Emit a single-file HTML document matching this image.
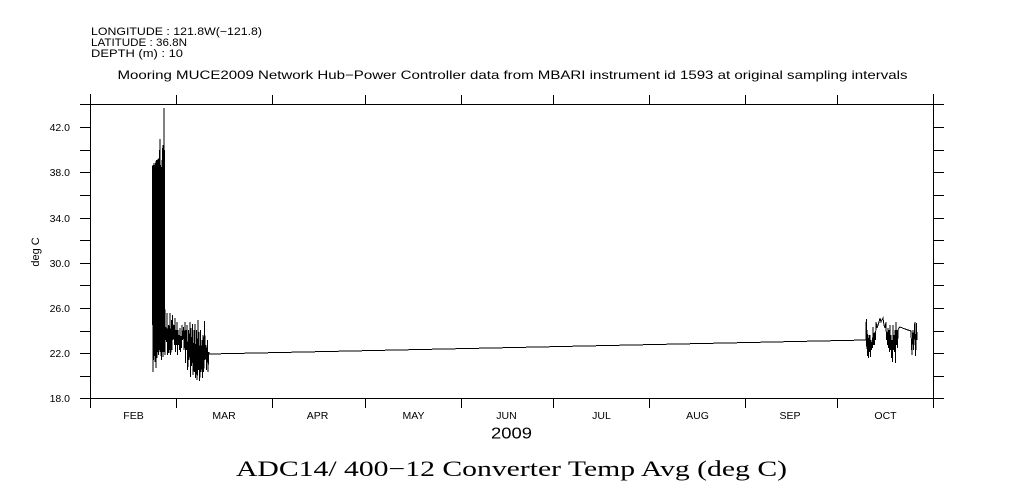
<!DOCTYPE html>
<html>
<head>
<meta charset="utf-8">
<style>
html,body{margin:0;padding:0;background:#fff;}
svg{display:block;}
text{font-family:"Liberation Sans",sans-serif;fill:#000;}
.serif{font-family:"Liberation Serif",serif;}
</style>
</head>
<body>
<svg width="1009" height="504" viewBox="0 0 1009 504" xmlns="http://www.w3.org/2000/svg">
<rect x="0" y="0" width="1009" height="504" fill="#fff"/>

<!-- header -->
<text x="91" y="35" font-size="11" textLength="171" lengthAdjust="spacingAndGlyphs">LONGITUDE : 121.8W(−121.8)</text>
<text x="91" y="46" font-size="11" textLength="96" lengthAdjust="spacingAndGlyphs">LATITUDE : 36.8N</text>
<text x="91" y="57" font-size="11" textLength="92" lengthAdjust="spacingAndGlyphs">DEPTH (m) : 10</text>
<text x="117.5" y="79" font-size="12" textLength="790" lengthAdjust="spacingAndGlyphs">Mooring MUCE2009 Network Hub−Power Controller data from MBARI instrument id 1593 at original sampling intervals</text>

<!-- axes -->
<g stroke="#000" stroke-width="1" fill="none" shape-rendering="crispEdges">
  <line x1="80" y1="104.5" x2="944" y2="104.5"/>
  <line x1="80" y1="398.5" x2="944" y2="398.5"/>
  <line x1="90.5" y1="94" x2="90.5" y2="408"/>
  <line x1="933.5" y1="94" x2="933.5" y2="408"/>
  <path d="M176.5 95V104 M272.5 95V104 M365.5 95V104 M461.5 95V104 M553.5 95V104 M649.5 95V104 M745.5 95V104 M837.5 95V104"/>
  <path d="M176.5 399V408 M272.5 399V408 M365.5 399V408 M461.5 399V408 M553.5 399V408 M649.5 399V408 M745.5 399V408 M837.5 399V408"/>
  <path d="M80 376.5H90 M80 353.5H90 M80 331.5H90 M80 308.5H90 M80 285.5H90 M80 263.5H90 M80 240.5H90 M80 218.5H90 M80 195.5H90 M80 172.5H90 M80 150.5H90 M80 127.5H90"/>
  <path d="M934 376.5H944 M934 353.5H944 M934 331.5H944 M934 308.5H944 M934 285.5H944 M934 263.5H944 M934 240.5H944 M934 218.5H944 M934 195.5H944 M934 172.5H944 M934 150.5H944 M934 127.5H944"/>
</g>

<!-- y labels -->
<g font-size="10.5" text-anchor="end">
  <text x="70" y="402">18.0</text>
  <text x="70" y="357">22.0</text>
  <text x="70" y="312">26.0</text>
  <text x="70" y="267">30.0</text>
  <text x="70" y="222">34.0</text>
  <text x="70" y="176">38.0</text>
  <text x="70" y="131">42.0</text>
</g>
<text x="0" y="0" font-size="11" text-anchor="middle" transform="translate(39,252) rotate(-90)">deg C</text>

<!-- month labels -->
<g font-size="10.5" text-anchor="middle">
  <text x="133.5" y="419">FEB</text>
  <text x="224" y="419">MAR</text>
  <text x="317.5" y="419">APR</text>
  <text x="413.5" y="419">MAY</text>
  <text x="506.5" y="419">JUN</text>
  <text x="601.5" y="419">JUL</text>
  <text x="697.5" y="419">AUG</text>
  <text x="790" y="419">SEP</text>
  <text x="885.5" y="419">OCT</text>
</g>
<text x="491" y="438.5" font-size="16" textLength="41" lengthAdjust="spacingAndGlyphs">2009</text>

<text class="serif" x="236" y="476" font-size="22" textLength="551" lengthAdjust="spacingAndGlyphs">ADC14/ 400−12 Converter Temp Avg (deg C)</text>

<!-- data -->
<g stroke="#000" stroke-width="1" fill="none" shape-rendering="crispEdges">
<polyline points="152.6,166 152.8,372 153.0,165 153.2,345 153.4,166 153.6,360 153.8,163 154.0,350 154.2,163 154.4,356 154.6,172 154.8,345 155.0,165 155.2,362 155.4,163 155.6,350 155.8,162 156.0,368 156.2,161 156.4,345 156.6,160 156.8,358 157.0,160 157.2,343 157.4,161 157.6,352 157.8,159 158.0,345 158.2,160 158.4,355 158.6,160 158.8,343 159.0,158 159.2,350 159.4,150 159.6,345 159.8,139 160.0,352 160.2,150 160.4,343 160.6,165 160.8,356 161.0,167 161.2,345 161.4,168 161.6,360 161.8,166 162.0,343 162.2,160 162.4,352 162.6,148 162.8,345 163.0,145 163.2,357 163.4,160 163.6,343 163.8,130 164.0,352 164.2,108 164.4,345 164.6,150 164.8,355 165,313 165.5,340 166,330 166.5,342 167,313 167.7,355 168.5,325 169.2,353 170,313 170.7,355 171.5,320 172,350 172.5,315 173.2,340 174,325 174.5,345 175,318 175.5,352 176,330 176.5,345 177,322 177.5,355 178,330 178.5,345 179,335 179.5,350 180,328 180.5,352 181,336 181.5,348 182,325 182.7,340 183.5,327 184.2,350 185,322 185.5,363 186,330 186.5,350 187,325 187.7,370 188.5,330 189.2,360 190,322 190.5,377 191,328 191.7,366 192.5,324 193.2,375 194,330 194.5,372 195,324 195.7,378 196.5,330 197.2,380 198,320 198.5,370 199,332 199.7,381 200.5,330 201.2,372 202,340 202.5,378 203,335 203.7,372 204.5,321 205.2,360 206,345 206.5,370 207.5,340 208,372 208.7,352 209.5,354 866,340 866.3,319 866.8,349 867.2,330 867.6,356 868,338 868.5,358 869,335 869.5,352 870,335 870.5,357 871,340 871.5,350 872,342 872.5,348 873,327 873.5,345 874,333 874.5,345 875,332 875.5,340 876,322 877,328 878,325 879,322 880,318 881,322 882,320 883,318 884,325 885,328 886,322 886.5,340 887,332 887.5,345 888,328 888.5,348 889,330 889.5,352 890,325 890.5,350 891,335 891.5,358 892,340 892.5,362 893,325 893.5,350 894,335 894.5,352 895,330 895.5,363 896,322 896.5,345 897,330 897.5,348 898,330 899,328 900,327 905,329 911,331 911.5,345 912,355 912.5,335 913,330 913.5,350 914,340 914.5,325 915,322 915.5,356 916,345 916.5,323 917,340"/>
</g>
</svg>
</body>
</html>
